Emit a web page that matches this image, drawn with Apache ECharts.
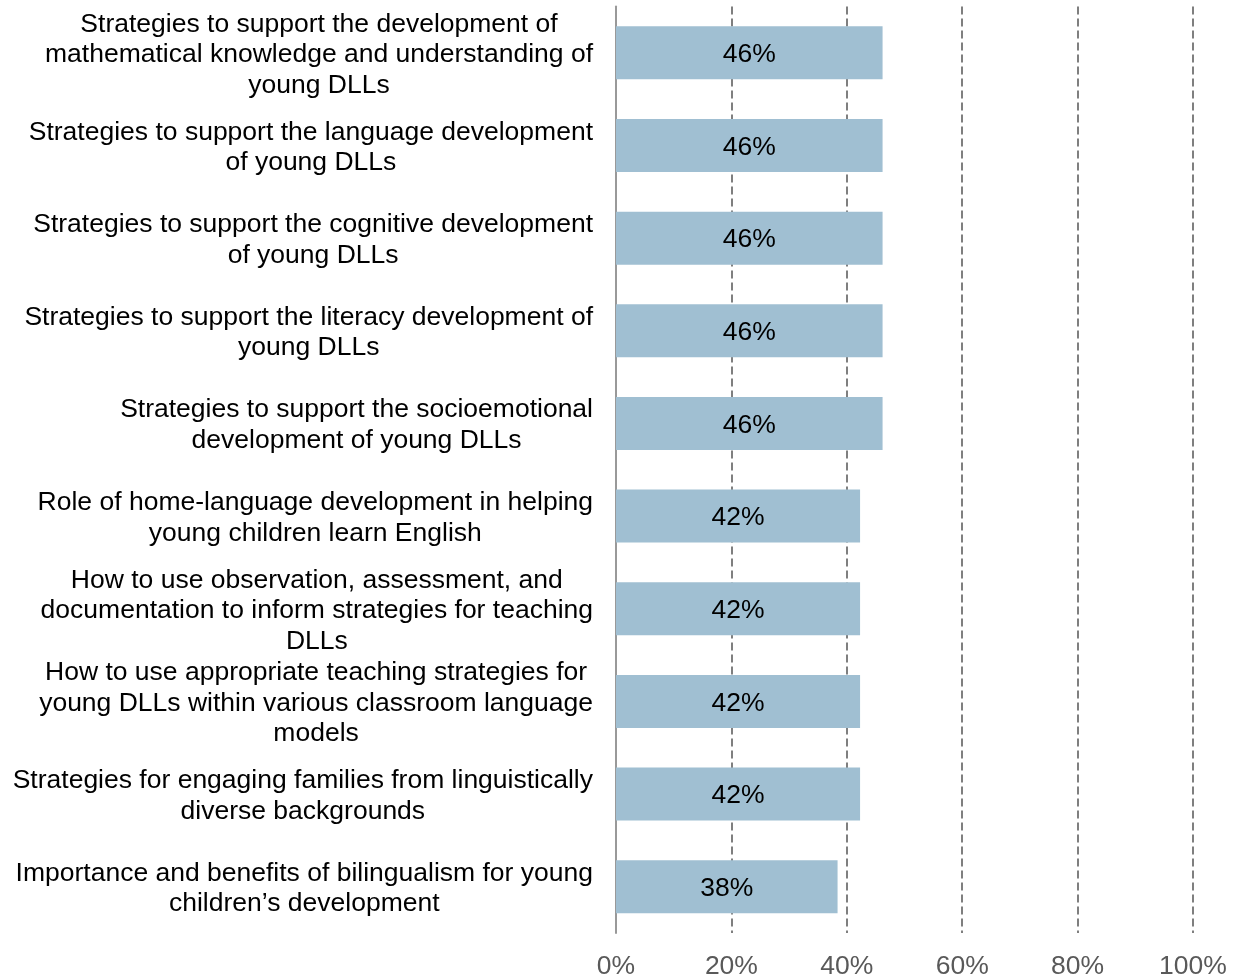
<!DOCTYPE html>
<html>
<head>
<meta charset="utf-8">
<script src="https://cdn.jsdelivr.net/npm/echarts@6/dist/echarts.min.js"></script>
<style>html,body{margin:0;padding:0;background:#fff;}#c{width:1239px;height:980px;}</style>
</head>
<body>
<div id="c"></div>
<script>
const categories = [
  "Strategies to support the development of\nmathematical knowledge and understanding of\nyoung DLLs",
  "Strategies to support the language development\nof young DLLs",
  "Strategies to support the cognitive development\nof young DLLs",
  "Strategies to support the literacy development of\nyoung DLLs",
  "Strategies to support the socioemotional\ndevelopment of young DLLs",
  "Role of home-language development in helping\nyoung children learn English",
  "How to use observation, assessment, and\ndocumentation to inform strategies for teaching\nDLLs",
  "How to use appropriate teaching strategies for\nyoung DLLs within various classroom language\nmodels",
  "Strategies for engaging families from linguistically\ndiverse backgrounds",
  "Importance and benefits of bilingualism for young\nchildren\u2019s development"
];
const values = [46.2, 46.2, 46.2, 46.2, 46.2, 42.3, 42.3, 42.3, 42.3, 38.4];
const xTicks = [0, 20, 40, 60, 80, 100];

const chart = echarts.init(document.getElementById('c'));
chart.setOption({
  animation: false,
  textStyle: { fontFamily: 'Liberation Sans, Arial, sans-serif' },
  grid: { left: 616, right: 46, top: 6.5, bottom: 45.5, containLabel: false },
  xAxis: {
    type: 'value', min: 0, max: 100, interval: 20,
    axisLine: { show: false }, axisTick: { show: false },
    splitLine: { show: true, lineStyle: { color: '#7f7f7f', width: 2, type: [8, 4] } },
    axisLabel: { fontSize: 26.5, color: '#595959', margin: 20,
      formatter: v => xTicks.indexOf(v) >= 0 ? v + '%' : '' }
  },
  yAxis: {
    type: 'category', data: categories, inverse: true,
    axisLine: { show: true, lineStyle: { color: '#999999', width: 2 } },
    axisTick: { show: false },
    axisLabel: {
      align: 'right', margin: 23, color: '#000', fontSize: 26.5, lineHeight: 30.5,
      padding: [4, 0, 0, 0],
      formatter: v => v.split('\n').map(l => '{c|' + l + '}').join('\n'),
      rich: { c: { align: 'center', fontSize: 26.5, lineHeight: 30.5, color: '#000', fontFamily: 'Liberation Sans, Arial, sans-serif' } }
    }
  },
  series: [{
    type: 'bar', data: values, barWidth: 53, z: 3,
    itemStyle: { color: '#A0BFD2' },
    label: { show: true, position: 'inside', fontSize: 26.5, color: '#000', offset: [0, 2],
      formatter: p => Math.round(p.value) + '%' }
  }]
});
</script>
</body>
</html>
